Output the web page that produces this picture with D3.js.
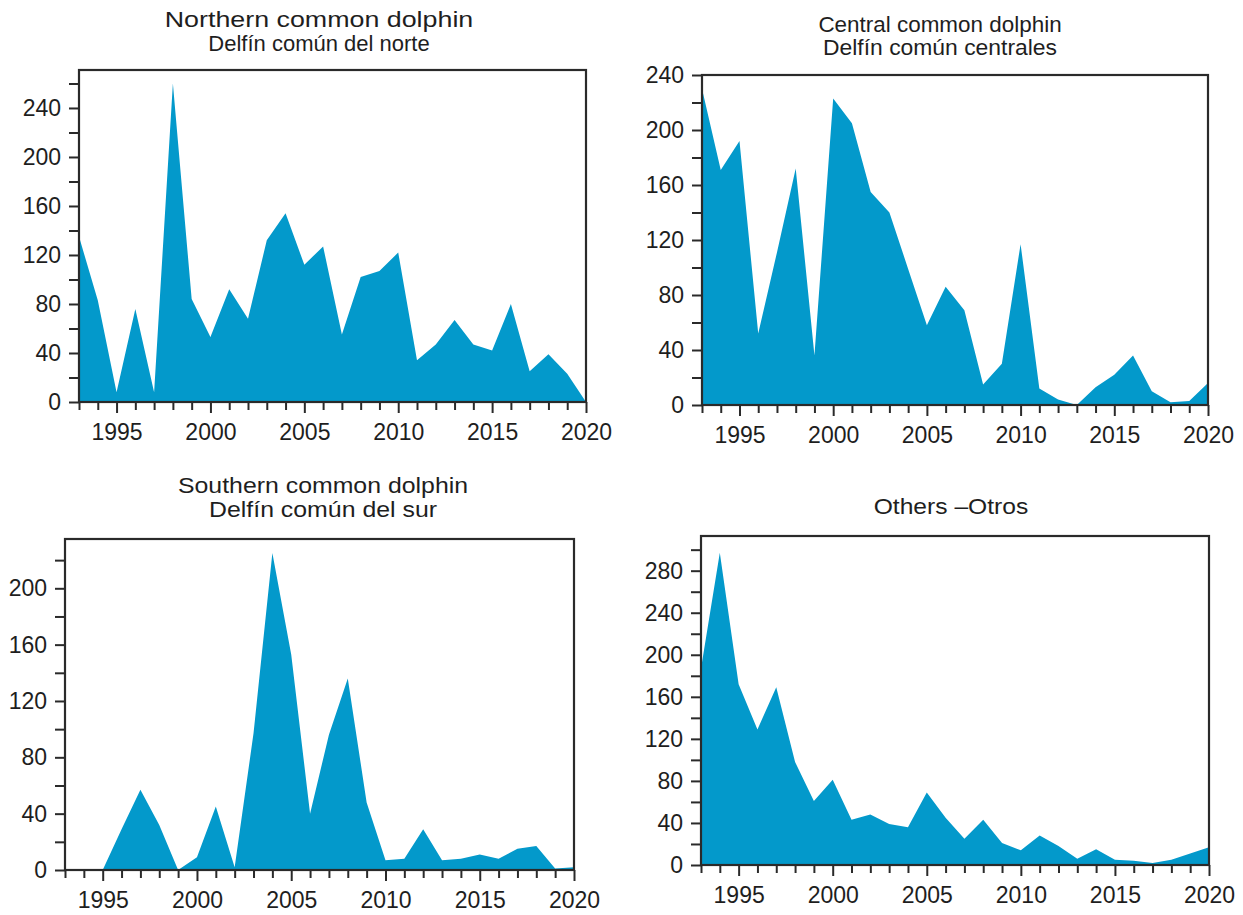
<!DOCTYPE html>
<html>
<head>
<meta charset="utf-8">
<script src="https://cdn.jsdelivr.net/npm/d3@7"></script>
<style>
  body { margin: 0; background: #fff; }
  svg { display: block; }
  text { font-family: "Liberation Sans", Arial, Helvetica, sans-serif; fill: #1e1e1e; }
</style>
</head>
<body>
<svg id="chart" width="1243" height="915"></svg>
<script>
// Annual dolphin mortality by stock, 1993-2020
const years = [1993, 1994, 1995, 1996, 1997, 1998, 1999, 2000, 2001, 2002, 2003, 2004, 2005, 2006,
               2007, 2008, 2009, 2010, 2011, 2012, 2013, 2014, 2015, 2016, 2017, 2018, 2019, 2020];

const northernValues = [135, 83, 8, 76, 8, 260, 84, 53, 92, 68, 132, 154, 112, 127,
                        55, 102, 107, 122, 34, 47, 67, 47, 42, 80, 25, 39, 23, 0];
const centralValues  = [230, 171, 192, 52, 111, 172, 36, 223, 205, 155, 140, 99, 58, 86,
                        69, 15, 30, 117, 12, 4, 0, 13, 22, 36, 10, 2, 3, 16];
const southernValues = [0, 0, 0, 29, 57, 32, 0, 9, 45, 2, 97, 225, 153, 40,
                        96, 136, 48, 7, 8, 29, 7, 8, 11, 8, 15, 17, 1, 2];
const othersValues   = [187, 297, 172, 129, 169, 98, 61, 81, 43, 48, 39, 36, 69, 45,
                        25, 43, 21, 14, 28, 18, 6, 15, 5, 4, 2, 5, 11, 17];

const northernTitle = ["Northern common dolphin", "Delfín común del norte"];
const centralTitle  = ["Central common dolphin", "Delfín común centrales"];
const southernTitle = ["Southern common dolphin", "Delfín común del sur"];
const othersTitle   = ["Others \u2013Otros"];

const xTickLabels = [1995, 2000, 2005, 2010, 2015, 2020];
const northernYLabels = [0, 40, 80, 120, 160, 200, 240];
const centralYLabels  = [0, 40, 80, 120, 160, 200, 240];
const southernYLabels = [0, 40, 80, 120, 160, 200];
const othersYLabels   = [0, 40, 80, 120, 160, 200, 240, 280];

const FILL = "#0399cb";
const INK = "#2a2a2a";

const svg = d3.select("#chart");

function drawPanel(p) {
  const g = svg.append("g");
  const x = d3.scaleLinear().domain([years[0], years[years.length - 1]]).range([p.left, p.right]);
  const y = d3.scaleLinear().domain([0, p.yMax]).range([p.bottom, p.top]);

  // filled area
  const area = d3.area()
    .x((d, i) => x(years[i]))
    .y0(y(0))
    .y1(d => y(d));
  g.append("path").datum(p.values).attr("d", area).attr("fill", FILL);

  // x axis: tick at every year, longer ticks on labelled years
  const xAxis = d3.axisBottom(x)
    .tickValues(years)
    .tickSize(8)
    .tickFormat(d => xTickLabels.includes(d) ? String(d) : "");
  const gx = g.append("g").attr("transform", `translate(0,${p.bottom})`).call(xAxis);
  gx.select(".domain").remove();
  gx.selectAll(".tick line").attr("stroke", INK).attr("stroke-width", 2)
    .attr("y2", d => xTickLabels.includes(d) ? 11 : 8);
  gx.selectAll(".tick text").attr("y", 22).attr("font-size", 23).style("fill", "#1e1e1e");

  // y axis: minor ticks every 20, labels every 40
  const top = p.yLabels[p.yLabels.length - 1] + (p.extraTick ? 20 : 0);
  const yAxis = d3.axisLeft(y)
    .tickValues(d3.range(0, top + 1, 20))
    .tickSize(10)
    .tickPadding(8)
    .tickFormat(d => p.yLabels.includes(d) ? String(d) : "");
  const gy = g.append("g").attr("transform", `translate(${p.left},0)`).call(yAxis);
  gy.select(".domain").remove();
  gy.selectAll(".tick line").attr("stroke", INK).attr("stroke-width", 2);
  gy.selectAll(".tick text").attr("font-size", 23).style("fill", "#1e1e1e");

  // plot frame
  g.append("rect")
    .attr("x", p.left).attr("y", p.top)
    .attr("width", p.right - p.left).attr("height", p.bottom - p.top)
    .attr("fill", "none").attr("stroke", INK).attr("stroke-width", 2.2);

  // title lines (slightly widened lettering)
  g.selectAll("text.title").data(p.title).join("text")
    .attr("class", "title")
    .attr("text-anchor", "middle")
    .attr("font-size", 22)
    .attr("transform", (d, i) => `translate(${p.titleX},${p.titleY[i]}) scale(${p.titleStretch[i]},1)`)
    .text(d => d);
}

drawPanel({ values: northernValues, title: northernTitle, yLabels: northernYLabels, extraTick: true,
            left: 79, right: 586, top: 70, bottom: 402, yMax: 271, titleX: 319, titleY: [27, 51],
            titleStretch: [1.22, 1.0] });
drawPanel({ values: centralValues, title: centralTitle, yLabels: centralYLabels, extraTick: false,
            left: 702, right: 1208, top: 75, bottom: 405, yMax: 240, titleX: 940, titleY: [32, 55],
            titleStretch: [1.02, 1.04] });
drawPanel({ values: southernValues, title: southernTitle, yLabels: southernYLabels, extraTick: true,
            left: 65, right: 574, top: 539, bottom: 870, yMax: 235, titleX: 323, titleY: [493, 517],
            titleStretch: [1.13, 1.13] });
drawPanel({ values: othersValues, title: othersTitle, yLabels: othersYLabels, extraTick: true,
            left: 701, right: 1209, top: 536, bottom: 865, yMax: 313, titleX: 951, titleY: [514],
            titleStretch: [1.12] });
</script>
</body>
</html>
